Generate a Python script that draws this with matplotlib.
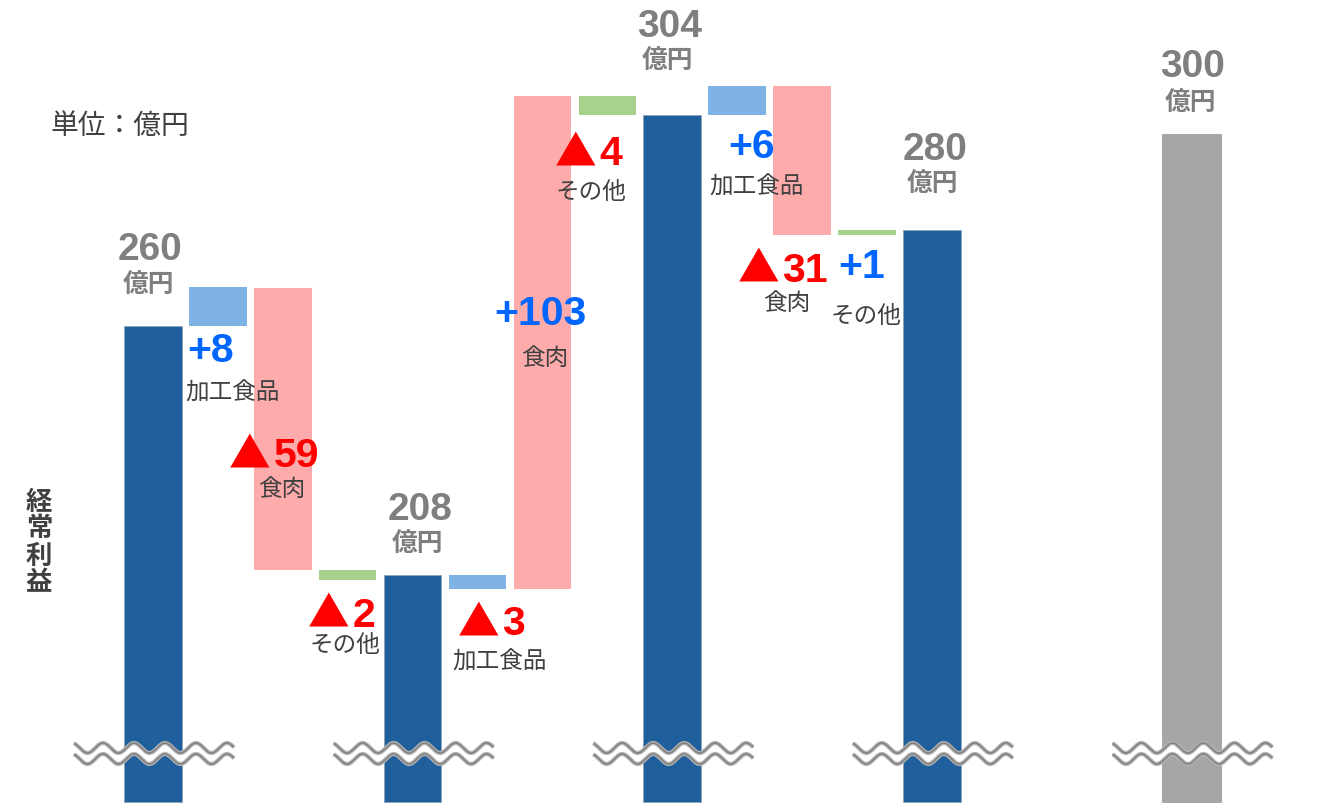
import matplotlib
matplotlib.use('Agg')
import matplotlib.pyplot as plt
import numpy as np

W, H, DPI = 1337, 805, 100

# ---------------- data ----------------
total_labels = ['260', '208', '304', '280', '300']
total_values = [260, 208, 304, 280, 300]
total_positions = [0, 4, 8, 12, 16]
total_unit = '億円'

step_categories = ['加工食品', '食肉', 'その他',
                   '加工食品', '食肉', 'その他',
                   '加工食品', '食肉', 'その他']
step_values = [8, -59, -2, -3, 103, -4, 6, -31, 1]
step_positions = [1, 2, 3, 5, 6, 7, 9, 10, 11]
step_group = [0, 0, 0, 1, 1, 1, 2, 2, 2]   # which total each step starts from

unit_label = '単位：億円'
axis_label = '経常利益'

# ---------------- style / layout ----------------
cat_colors = {'加工食品': '#7FB2E5', '食肉': '#FDABAB', 'その他': '#A9D18E'}
total_colors = ['#1F5F9B', '#1F5F9B', '#1F5F9B', '#1F5F9B', '#A6A6A6']
POS_COLOR = '#0066FF'
NEG_COLOR = '#FF0000'
TOTAL_TXT = '#7F7F7F'
CAT_TXT = '#404040'

# label offsets in pixels (dx, dy downward) relative to (bar centre, lower end)
# for negative values dx is the junction between the triangle and the digits
num_offsets = [(-7, 36), (-10, -103), (4, 47), (23.5, 46), (-2, -264),
               (-9, 50), (14, 43), (-21, 47), (-5, 43)]
cat_offsets = [(15, 67), (-1, -81), (-3, 66), (22.5, 73), (2, -231),
               (-16, 77), (20, 72), (-15, 69), (-1, 82)]
# total label offsets (dx, number baseline above top, unit centre above top)
tot_offsets = [(-3, 66, 41), (7, 55, 32), (-3, 78, 55), (3, 70, 47), (1, 57, 32)]

NUM_FONT = ['Liberation Sans', 'Noto Sans CJK JP']
CJK_FONT = ['Noto Sans CJK JP', 'DejaVu Sans']

XLIM = (-2.357, 18.243)
YLIM = (160.0, 328.0)
BASE = 160.6
BREAK = 170.75

fig = plt.figure(figsize=(W / DPI, H / DPI), dpi=DPI)
ax = fig.add_axes([0, 0, 1, 1])
ax.set_xlim(*XLIM)
ax.set_ylim(*YLIM)
ax.axis('off')

sx = W / (XLIM[1] - XLIM[0])
sy = H / (YLIM[1] - YLIM[0])

# total bars
for i, (p, v) in enumerate(zip(total_positions, total_values)):
    w = 0.92 if i == 4 else 0.885
    ec = '#A0A0A0' if i == 4 else '#8FA3BA'
    ax.bar(p, v - BASE, bottom=BASE, width=w, color=total_colors[i],
           edgecolor=ec, linewidth=0.6, zorder=2)

# step bars
cum = None
prev_group = -1
lowers = []
for k, (p, v, c, g) in enumerate(zip(step_positions, step_values,
                                     step_categories, step_group)):
    if g != prev_group:
        cum = total_values[g]
        prev_group = g
    start, end = cum, cum + v
    lo = min(start, end)
    ax.bar(p, abs(v), bottom=lo, width=0.885, color=cat_colors[c], zorder=2)
    lowers.append(lo)
    cum = end

# step labels
for k, (p, v, c) in enumerate(zip(step_positions, step_values, step_categories)):
    lo = lowers[k]
    dx, dy = num_offsets[k]
    if v > 0:
        ax.annotate(f'+{v}', xy=(p, lo), xytext=(dx, -dy),
                    textcoords='offset pixels', ha='center', va='baseline',
                    fontsize=29.5, fontweight='bold', color=POS_COLOR,
                    family=NUM_FONT, zorder=6)
    else:
        ax.annotate('▲', xy=(p, lo), xytext=(dx - 2, -dy),
                    textcoords='offset pixels', ha='right', va='baseline',
                    fontsize=30, fontweight='bold', color=NEG_COLOR,
                    family=CJK_FONT, zorder=6)
        ax.annotate(f'{abs(v)}', xy=(p, lo), xytext=(dx + 1, -dy),
                    textcoords='offset pixels', ha='left', va='baseline',
                    fontsize=29.5, fontweight='bold', color=NEG_COLOR,
                    family=NUM_FONT, zorder=6)
    dx, dy = cat_offsets[k]
    ax.annotate(c, xy=(p, lo), xytext=(dx, -dy), textcoords='offset pixels',
                ha='center', va='center', fontsize=17, color=CAT_TXT,
                family=CJK_FONT, zorder=6)

# total labels
for i, (p, v, lab) in enumerate(zip(total_positions, total_values, total_labels)):
    dx, nb, uc = tot_offsets[i]
    ax.annotate(lab, xy=(p, v), xytext=(dx, nb), textcoords='offset pixels',
                ha='center', va='baseline', fontsize=28, fontweight='bold',
                color=TOTAL_TXT, family=NUM_FONT, zorder=6)
    ax.annotate(total_unit, xy=(p, v), xytext=(dx - 2, uc),
                textcoords='offset pixels', ha='center', va='center',
                fontsize=18.5, fontweight='bold', color=TOTAL_TXT,
                family=CJK_FONT, zorder=6)

# axis break waves
def draw_break(xc):
    d = np.linspace(-79, 81, 500)
    ph = np.cos(2 * np.pi * (d - 12) / 31)
    up_px = -5.5 - 5 * ph
    lo_px = 5.5 - 5 * ph
    xs = xc + d / sx
    yu = BREAK - up_px / sy
    yl = BREAK - lo_px / sy
    ax.fill_between(xs, yl, yu, color='white', zorder=3, linewidth=0)
    for y in (yu, yl):
        ax.plot(xs, y, color='#B4B4B4', lw=3.0, zorder=4, solid_capstyle='butt')
        ax.plot(xs, y, color='#808080', lw=1.1, zorder=5, solid_capstyle='butt')

for p in total_positions:
    draw_break(p)

# unit note
fig.text(50 / W, 1 - 133.5 / H, unit_label, ha='left', va='baseline',
         fontsize=20, color=CAT_TXT, family=CJK_FONT)

# vertical axis label (stacked characters)
for j, ch in enumerate(axis_label):
    fig.text(39 / W, 1 - (502 + 27 * j) / H, ch, ha='center', va='center',
             fontsize=19, fontweight='bold', color=CAT_TXT, family=CJK_FONT)

fig.savefig('out.png', dpi=DPI, facecolor='white')
